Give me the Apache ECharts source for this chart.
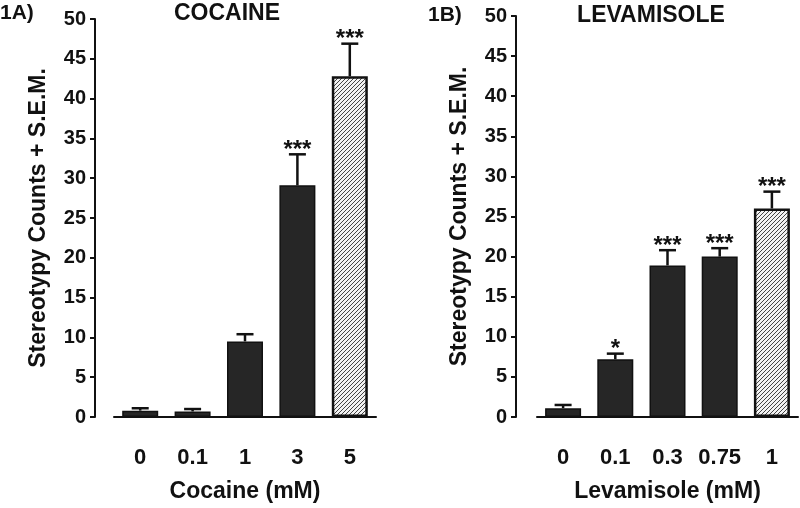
<!DOCTYPE html>
<html>
	<head>
		<meta charset="utf-8" />
		<title>Stereotypy counts</title>
		<style type="text/css">
			html, body {margin:0;padding:0;background:#fff;}
			#chart {width:800px;height:508px;}
		</style>
	</head>
	<body>
		<div id="chart"></div>
		<script src="https://cdn.jsdelivr.net/npm/echarts@6/dist/echarts.min.js"></script>
		<script type="text/javascript">
			// data
			const cocaineDoses = ['0', '0.1', '1', '3', '5'];
			const cocaineMean = [0.8, 0.7, 9.5, 29.1, 42.8];
			const cocaineSem = [0.3, 0.3, 0.9, 3.9, 4.1];
			const cocaineSig = ['', '', '', '***', '***'];

			const levDoses = ['0', '0.1', '0.3', '0.75', '1'];
			const levMean = [1.1, 7.2, 18.9, 20.0, 26.0];
			const levSem = [0.4, 0.7, 1.9, 1.05, 2.1];
			const levSig = ['', '*', '***', '***', '***'];

			const yTicks = [0, 5, 10, 15, 20, 25, 30, 35, 40, 45, 50];

			const FONT = 'Liberation Sans, Arial, sans-serif';

			// hatch pattern for the last (highest dose) bar
			function makeHatch() {
				const c = document.createElement('canvas');
				c.width = 4; c.height = 4;
				const g = c.getContext('2d');
				g.fillStyle = '#f2f2f2';
				g.fillRect(0, 0, 4, 4);
				g.strokeStyle = '#444';
				g.lineWidth = 1;
				g.beginPath();
				g.moveTo(0, 4); g.lineTo(4, 0);
				g.moveTo(-1, 1); g.lineTo(1, -1);
				g.moveTo(3, 5); g.lineTo(5, 3);
				g.stroke();
				return c;
			}
			const hatch = makeHatch();

			function barData(vals) {
				return vals.map((v, i) => {
					if (i === vals.length - 1) {
						return {value: v, itemStyle: {color: {image: hatch, repeat: 'repeat'}, borderColor: '#111', borderWidth: 2.5}};
					}
					return v;
				});
			}

			function errSeries(idx, mean, sem, sig) {
				return {
					type: 'custom',
					xAxisIndex: idx,
					yAxisIndex: idx,
					z: 1,
					silent: true,
					data: mean.map((m, i) => [i, m, sem[i]]),
					encode: {x: 0, y: 1},
					renderItem: function (params, api) {
						const i = api.value(0);
						const m = api.value(1);
						const e = api.value(2);
						const p0 = api.coord([i, m]);
						const p1 = api.coord([i, m + e]);
						const s = {stroke: '#111', lineWidth: 2.5};
						const kids = [
							{type: 'line', shape: {x1: p0[0], y1: p0[1], x2: p1[0], y2: p1[1]}, style: s},
							{type: 'line', shape: {x1: p1[0] - 8.5, y1: p1[1], x2: p1[0] + 8.5, y2: p1[1]}, style: s}
						];
						const t = sig[params.dataIndex];
						if (t) {
							kids.push({type: 'text', x: p1[0], y: p1[1] - 4, style: {
								text: t, textAlign: 'center', textVerticalAlign: 'middle',
								font: 'bold 24px ' + FONT, fill: '#111'
							}});
						}
						return {type: 'group', children: kids};
					}
				};
			}

			function xAxisOpt(idx, cats, name) {
				return {
					type: 'category',
					gridIndex: idx,
					data: cats,
					offset: 18,
					name: name,
					nameLocation: 'middle',
					nameGap: 45,
					nameTextStyle: {fontSize: 23, fontWeight: 'bold', color: '#111', fontFamily: FONT},
					axisLine: {lineStyle: {color: '#111', width: 2}},
					axisTick: {alignWithLabel: true, length: 6, lineStyle: {color: '#111', width: 2}},
					axisLabel: {interval: 0, fontSize: 22, fontWeight: 'bold', color: '#111', fontFamily: FONT, margin: 12}
				};
			}

			function yAxisOpt(idx, off) {
				return {
					type: 'value',
					gridIndex: idx,
					min: yTicks[0],
					max: yTicks[yTicks.length - 1],
					interval: yTicks[1] - yTicks[0],
					offset: off,
					name: 'Stereotypy Counts + S.E.M.',
					nameLocation: 'middle',
					nameGap: 45,
					nameTextStyle: {fontSize: 23, fontWeight: 'bold', color: '#111', fontFamily: FONT},
					axisLine: {show: true, lineStyle: {color: '#111', width: 2}},
					axisTick: {show: true, length: 5, lineStyle: {color: '#111', width: 2}},
					axisLabel: {fontSize: 20, fontWeight: 'bold', color: '#111', fontFamily: FONT, margin: 9},
					splitLine: {show: false}
				};
			}

			const chart = echarts.init(document.getElementById('chart'));
			chart.setOption({
				animation: false,
				backgroundColor: '#fff',
				graphic: [
					{type: 'text', left: 0, top: 3, style: {text: '1A)', font: 'bold 21px ' + FONT, fill: '#111'}},
					{type: 'text', x: 227, y: 2, style: {text: 'COCAINE', textAlign: 'center', font: 'bold 23px ' + FONT, fill: '#111'}},
					{type: 'text', x: 428, y: 5, style: {text: '1B)', font: 'bold 21px ' + FONT, fill: '#111'}},
					{type: 'text', x: 651, y: 4, style: {text: 'LEVAMISOLE', textAlign: 'center', font: 'bold 23px ' + FONT, fill: '#111'}}
				],
				grid: [
					{left: 114, top: 19, width: 262, height: 402},
					{left: 537, top: 16, width: 261, height: 403}
				],
				xAxis: [
					xAxisOpt(0, cocaineDoses, 'Cocaine (mM)'),
					xAxisOpt(1, levDoses, 'Levamisole (mM)')
				],
				yAxis: [
					yAxisOpt(0, 19),
					yAxisOpt(1, 21)
				],
				series: [
					{
						type: 'bar', xAxisIndex: 0, yAxisIndex: 0, z: 2,
						barWidth: 36,
						itemStyle: {color: '#262626', borderColor: '#111', borderWidth: 1.5},
						data: barData(cocaineMean)
					},
					errSeries(0, cocaineMean, cocaineSem, cocaineSig),
					{
						type: 'bar', xAxisIndex: 1, yAxisIndex: 1, z: 2,
						barWidth: 36,
						itemStyle: {color: '#262626', borderColor: '#111', borderWidth: 1.5},
						data: barData(levMean)
					},
					errSeries(1, levMean, levSem, levSig)
				]
			});
		</script>
	</body>
</html>
